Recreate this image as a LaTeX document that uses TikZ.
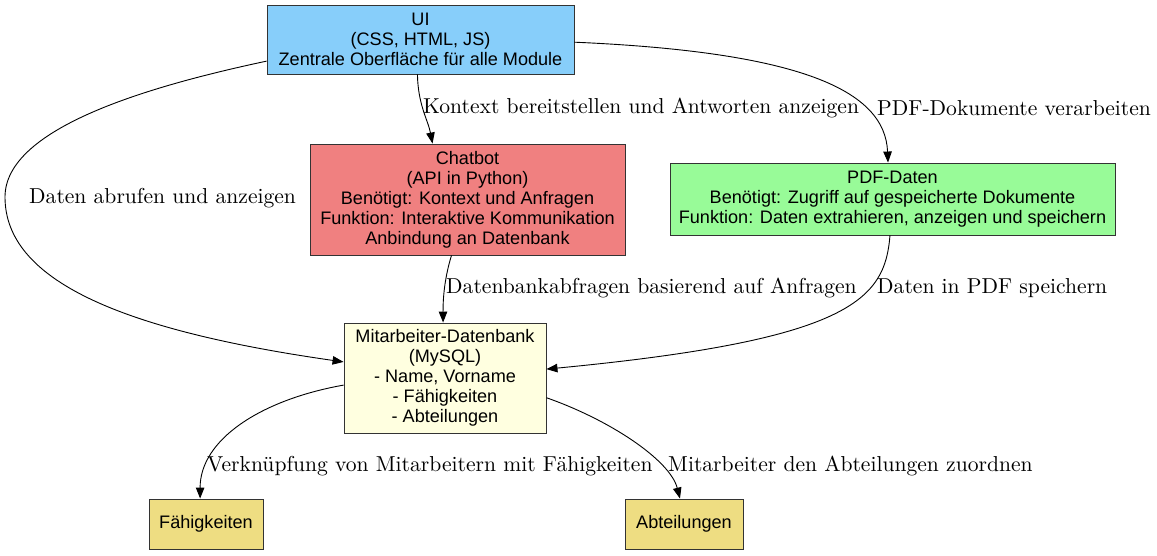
\documentclass[tikz,border=0pt]{standalone}
\usepackage{fontspec}
\newfontfamily\boxfont{Liberation Sans}
\newfontfamily\lblfont{lmroman10-regular.otf}
\usepackage{tikz}
\usetikzlibrary{arrows.meta,positioning}

\definecolor{uiblau}{HTML}{87CEFA}
\definecolor{botrot}{HTML}{F08080}
\definecolor{pdfgruen}{HTML}{98FB98}
\definecolor{dbgelb}{HTML}{FFFFE0}
\definecolor{blattgold}{HTML}{EEDD82}

\tikzset{
  modul/.style={rectangle, draw=black!80, line width=0.9pt, align=center,
    inner sep=0pt, font=\boxfont\fontsize{18.1}{20}\selectfont},
  kante/.style={line width=0.9pt, -{Triangle[length=11pt,width=8.5pt]}},
  beschr/.style={anchor=west, inner sep=0pt, font=\lblfont\fontsize{21.6}{24}\selectfont}
}

\begin{document}
\begin{tikzpicture}[x=1pt,y=-1pt]
\useasboundingbox (0,0) rectangle (1157,555);

% Module
\node[modul, fill=uiblau, minimum width=307pt, minimum height=69pt]
    (ui) at (420.5,39.5) {UI\\(CSS, HTML, JS)\\Zentrale Oberfläche für alle Module};
\node[modul, fill=botrot, minimum width=315pt, minimum height=111pt]
    (chatbot) at (467.5,199.5) {Chatbot\\(API in Python)\\Benötigt: Kontext und Anfragen\\Funktion: Interaktive Kommunikation\\Anbindung an Datenbank};
\node[modul, fill=pdfgruen, minimum width=445pt, minimum height=72pt]
    (pdf) at (892.5,199) {PDF-Daten\\Benötigt: Zugriff auf gespeicherte Dokumente\\Funktion: Daten extrahieren, anzeigen und speichern};
\node[modul, fill=dbgelb, minimum width=202pt, minimum height=110pt]
    (db) at (445,378) {Mitarbeiter-Datenbank\\(MySQL)\\- Name, Vorname\\- Fähigkeiten\\- Abteilungen};
\node[modul, fill=blattgold, minimum width=114pt, minimum height=50pt]
    (faehig) at (206,524) {Fähigkeiten};
\node[modul, fill=blattgold, minimum width=118pt, minimum height=50pt]
    (abteil) at (684,524) {Abteilungen};

% Verbindungen
\draw[kante] (ui.265.9) .. controls (418,105) and (428,120) .. (chatbot.122.6);
\draw[kante] (ui.-1.7) .. controls (800,52) and (885,90) .. (pdf.97.1);
\draw[kante] (ui.188.7) .. controls (140,88) and (5,130) .. (5,197)
    .. controls (5,280) and (120,330) .. (db.171);
\draw[kante] (chatbot.-106.6) .. controls (444,280) and (443,300) .. (db.92.1);
\draw[kante] (pdf.-94) .. controls (885,300) and (850,340) .. (db.5.1);
\draw[kante] (db.184.5) .. controls (260,400) and (200,440) .. (faehig.103.5);
\draw[kante] (db.-11.7) .. controls (610,420) and (670,460) .. (abteil.99.1);

% Beschriftungen
\node[beschr] (lkontext) at (423,108) {Kontext bereitstellen und Antworten anzeigen};
\node[beschr] (lpdf) at (877,108) {PDF-Dokumente verarbeiten};
\node[beschr] (labruf) at (29,198) {Daten abrufen und anzeigen};
\node[beschr] (labfrage) at (446,288) {Datenbankabfragen basierend auf Anfragen};
\node[beschr] (lspeich) at (877,288) {Daten in PDF speichern};
\node[beschr] (lverkn) at (207,466) {Verknüpfung von Mitarbeitern mit Fähigkeiten};
\node[beschr] (lzuord) at (668,466) {Mitarbeiter den Abteilungen zuordnen};

\end{tikzpicture}
\end{document}
